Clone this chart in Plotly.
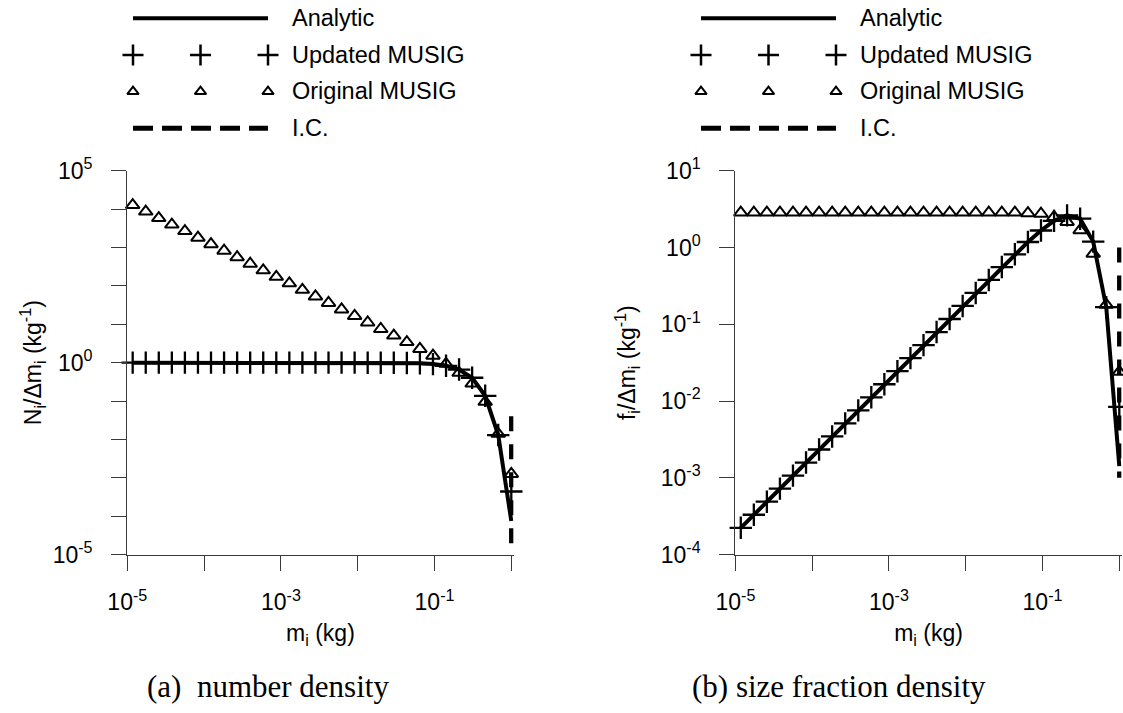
import plotly.graph_objects as go

# ---------------- data ----------------
mass = [1.175e-5, 1.738e-5, 2.570e-5, 3.802e-5, 5.623e-5, 8.318e-5,
        1.230e-4, 1.820e-4, 2.692e-4, 3.981e-4, 5.888e-4, 8.710e-4,
        1.288e-3, 1.905e-3, 2.818e-3, 4.169e-3, 6.166e-3, 9.120e-3,
        1.349e-2, 1.995e-2, 2.951e-2, 4.365e-2, 6.457e-2, 9.550e-2,
        0.1413, 0.2089, 0.3090, 0.4571, 0.6761, 1.0]

# (a) number density N_i / dm_i
n_analytic = [1.0, 1.0, 1.0, 1.0, 1.0, 1.0, 1.0, 1.0, 1.0, 1.0, 1.0, 1.0,
              1.0, 1.0, 1.0, 1.0, 1.0, 0.999, 0.998, 0.996, 0.992, 0.982,
              0.961, 0.917, 0.827, 0.661, 0.404, 0.137, 0.0130, 7.5e-5]
n_updated = [1.0, 1.0, 1.0, 1.0, 1.0, 1.0, 1.0, 1.0, 1.0, 1.0, 1.0, 1.0,
             1.0, 1.0, 1.0, 1.0, 1.0, 0.999, 0.998, 0.996, 0.992, 0.982,
             0.961, 0.917, 0.827, 0.661, 0.404, 0.137, 0.0130, 4.4e-4]
n_original = [12766, 8631, 5837, 3945, 2668, 1803, 1220, 824.2, 557.2, 376.8,
              254.8, 172.2, 116.5, 78.74, 53.23, 35.98, 24.33, 16.45, 11.12,
              7.519, 5.083, 3.436, 2.282, 1.516, 0.931, 0.542, 0.286, 0.0956,
              0.0140, 1.26e-3]
n_ic = [0.04, 1e-5]

# (b) size fraction density f_i / dm_i
f_analytic = [2.233e-4, 3.302e-4, 4.883e-4, 7.224e-4, 1.068e-3, 1.580e-3,
              2.337e-3, 3.458e-3, 5.115e-3, 7.564e-3, 1.119e-2, 1.655e-2,
              2.447e-2, 3.620e-2, 5.354e-2, 7.921e-2, 0.1171, 0.1731,
              0.2559, 0.3776, 0.5561, 0.8145, 1.179, 1.664, 2.221, 2.622,
              2.370, 1.193, 0.1669, 1.42e-3]
f_updated = [2.233e-4, 3.302e-4, 4.883e-4, 7.224e-4, 1.068e-3, 1.580e-3,
             2.337e-3, 3.458e-3, 5.115e-3, 7.564e-3, 1.119e-2, 1.655e-2,
             2.447e-2, 3.620e-2, 5.354e-2, 7.921e-2, 0.1171, 0.1731,
             0.2559, 0.3776, 0.5561, 0.8145, 1.179, 1.664, 2.221, 2.622,
             2.370, 1.193, 0.1669, 8.4e-3]
f_original = [2.85, 2.85, 2.85, 2.85, 2.85, 2.85, 2.85, 2.85, 2.85, 2.85,
              2.85, 2.85, 2.85, 2.85, 2.85, 2.85, 2.85, 2.85, 2.85, 2.85,
              2.85, 2.85, 2.8, 2.75, 2.5, 2.15, 1.68, 0.83, 0.18, 0.024]
f_ic = [1.0, 1e-3]
ic_mass = [1.0, 1.0]

x_tickvals = [1e-5, 1e-4, 1e-3, 1e-2, 1e-1, 1.0]
x_ticktext = ["10<sup>-5</sup>", "", "10<sup>-3</sup>", "", "10<sup>-1</sup>", ""]
ya_tickvals = [1e-5, 1e-4, 1e-3, 1e-2, 1e-1, 1.0, 1e1, 1e2, 1e3, 1e4, 1e5]
ya_ticktext = ["10<sup>-5</sup>", "", "", "", "", "10<sup>0</sup>", "", "", "", "", "10<sup>5</sup>"]
yb_tickvals = [1e-4, 1e-3, 1e-2, 1e-1, 1.0, 1e1]
yb_ticktext = ["10<sup>-4</sup>", "10<sup>-3</sup>", "10<sup>-2</sup>",
               "10<sup>-1</sup>", "10<sup>0</sup>", "10<sup>1</sup>"]

legend_names = ["Analytic", "Updated MUSIG", "Original MUSIG", "I.C."]
legend_samples = [0.0, 0.5, 1.0]

# ---------------- styling / layout ----------------
W, H = 1123, 713
SANS = "Liberation Sans, Arial, sans-serif"
SERIF = "Liberation Serif, Times New Roman, serif"
AX = "#3a3a3a"

def px_x(p):
    return p / W

def px_y(p):
    return 1 - p / H

fig = go.Figure()

line_style = dict(color="black", width=4)
dash_style = dict(color="black", width=4.5, dash="15px,13px")
plus_marker = dict(symbol="cross-thin", size=16, line=dict(color="black", width=2.3))
tri_marker = dict(symbol="triangle-up-open", size=12, color="black",
                  line=dict(color="black", width=2))

for xa, ya, yan, yup, yor, yic in [("x", "y", n_analytic, n_updated, n_original, n_ic),
                                   ("x2", "y2", f_analytic, f_updated, f_original, f_ic)]:
    fig.add_trace(go.Scatter(x=ic_mass, y=yic, mode="lines", line=dash_style,
                             xaxis=xa, yaxis=ya, showlegend=False, name="I.C.",
                             cliponaxis=False))
    fig.add_trace(go.Scatter(x=mass, y=yan, mode="lines", line=line_style,
                             xaxis=xa, yaxis=ya, showlegend=False, name="Analytic",
                             cliponaxis=False))
    fig.add_trace(go.Scatter(x=mass, y=yor, mode="markers", marker=tri_marker,
                             xaxis=xa, yaxis=ya, showlegend=False, name="Original MUSIG",
                             cliponaxis=False))
    fig.add_trace(go.Scatter(x=mass, y=yup, mode="markers", marker=plus_marker,
                             xaxis=xa, yaxis=ya, showlegend=False, name="Updated MUSIG",
                             cliponaxis=False))

# ---- custom legends (three-sample symbols like the reference) ----
LEG_LEFT = [119.5, 281.5]
LEG_SHIFT = 568
LEG_TEXT_X = 290
ROW_Y = [18.3, 55, 91.5, 128]   # pixel rows
for k, (xa, ya) in enumerate([("x3", "y3"), ("x4", "y4")]):
    fig.add_trace(go.Scatter(x=[legend_samples[0], legend_samples[-1]], y=[3, 3], mode="lines",
                             line=line_style, xaxis=xa, yaxis=ya, showlegend=False, hoverinfo="skip"))
    fig.add_trace(go.Scatter(x=legend_samples, y=[2, 2, 2], mode="markers",
                             marker=dict(symbol="cross-thin", size=15,
                                         line=dict(color="black", width=2.5)),
                             xaxis=xa, yaxis=ya, showlegend=False,
                             hoverinfo="skip", cliponaxis=False))
    fig.add_trace(go.Scatter(x=legend_samples, y=[1, 1, 1], mode="markers",
                             marker=dict(symbol="triangle-up-open", size=10, color="black",
                                         line=dict(color="black", width=2)),
                             xaxis=xa, yaxis=ya, showlegend=False,
                             hoverinfo="skip", cliponaxis=False))
    fig.add_trace(go.Scatter(x=[legend_samples[0], legend_samples[-1]], y=[0, 0], mode="lines",
                             line=dict(color="black", width=5, dash="20px,9px"),
                             xaxis=xa, yaxis=ya, showlegend=False, hoverinfo="skip"))
    for name, ry in zip(legend_names, ROW_Y):
        fig.add_annotation(text=name, x=px_x(LEG_TEXT_X + k * LEG_SHIFT), y=px_y(ry),
                           xref="paper", yref="paper", xanchor="left", yanchor="middle",
                           showarrow=False, font=dict(family=SANS, size=23.5, color="black"))

common_axis = dict(showgrid=False, zeroline=False, showline=True, linecolor=AX,
                   linewidth=1.3, ticks="outside", ticklen=15, tickwidth=1.3,
                   tickcolor=AX, tickfont=dict(family=SANS, size=23, color="black"),
                   title_font=dict(family=SANS, size=23, color="black"),
                   type="log", mirror=False, automargin=False, ticklabelstandoff=14)

X_END = 0.03                    # tiny pad so the lines at m = 1 are not clipped
DEC = 76.8                      # pixels per decade on the x axes
x_dom_a = [px_x(127.3), px_x(511.3 + X_END * DEC)]
x_dom_b = [px_x(735.4), px_x(1119.3 + X_END * DEC)]
y_dom = [px_y(554.6), px_y(170.7)]

x_common = dict(common_axis, ticklabelstandoff=12, range=[-5, X_END],
                tickmode="array", tickvals=x_tickvals, ticktext=x_ticktext,
                title=dict(text="m<sub>i</sub> (kg)", standoff=10))

fig.update_layout(
    template="none",
    width=W, height=H,
    margin=dict(l=0, r=0, t=0, b=0, autoexpand=False),
    paper_bgcolor="white", plot_bgcolor="white",
    showlegend=False,
    xaxis=dict(x_common, domain=x_dom_a, anchor="y"),
    yaxis=dict(common_axis, domain=y_dom, anchor="x", range=[-5, 5],
               tickmode="array", tickvals=ya_tickvals, ticktext=ya_ticktext,
               title=dict(text="N<sub>i</sub>/Δm<sub>i</sub> (kg<sup>-1</sup>)", standoff=4)),
    xaxis2=dict(x_common, domain=x_dom_b, anchor="y2"),
    yaxis2=dict(common_axis, domain=y_dom, anchor="x2", range=[-4, 1],
                tickmode="array", tickvals=yb_tickvals, ticktext=yb_ticktext,
                title=dict(text="f<sub>i</sub>/Δm<sub>i</sub> (kg<sup>-1</sup>)", standoff=18)),
    xaxis3=dict(domain=[px_x(LEG_LEFT[0]), px_x(LEG_LEFT[1])], range=[-0.1, 1.1],
                visible=False, anchor="y3", fixedrange=True),
    yaxis3=dict(domain=[px_y(146.5), 1.0], range=[-0.5, 3.5], visible=False,
                anchor="x3", fixedrange=True),
    xaxis4=dict(domain=[px_x(LEG_LEFT[0] + LEG_SHIFT), px_x(LEG_LEFT[1] + LEG_SHIFT)],
                range=[-0.1, 1.1], visible=False, anchor="y4", fixedrange=True),
    yaxis4=dict(domain=[px_y(146.5), 1.0], range=[-0.5, 3.5], visible=False,
                anchor="x4", fixedrange=True),
)

fig.add_annotation(text="(a)  number density", x=px_x(268), y=px_y(686),
                   xref="paper", yref="paper", xanchor="center", yanchor="middle",
                   showarrow=False, font=dict(family=SERIF, size=31, color="black"))
fig.add_annotation(text="(b) size fraction density", x=px_x(839), y=px_y(686),
                   xref="paper", yref="paper", xanchor="center", yanchor="middle",
                   showarrow=False, font=dict(family=SERIF, size=31, color="black"))

fig.write_html("out.html", config={"displayModeBar": False},
               post_script="document.body.style.margin='0px';document.body.style.padding='0px';")
